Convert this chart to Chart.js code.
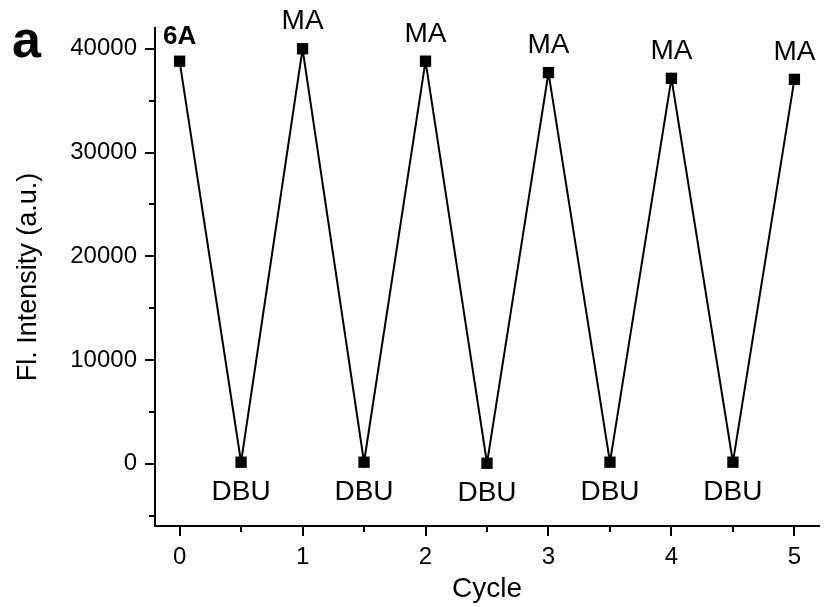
<!DOCTYPE html>
<html>
<head>
<meta charset="utf-8">
<script src="https://cdn.jsdelivr.net/npm/chart.js@4.4.1/dist/chart.umd.min.js"></script>
<style>
  html, body { margin: 0; padding: 0; background: #fff; }
  #wrap { position: relative; width: 827px; height: 607px; }
  #panel { position: absolute; left: 12px; top: 13px; font: bold 52px "Liberation Sans", Arial, sans-serif; color: #000; line-height: 52px; }
</style>
</head>
<body>
<div id="wrap">
  <canvas id="chart" width="827" height="607"></canvas>
  <div id="panel">a</div>
</div>
<script>
// 數據
const cycles = [0, 0.5, 1, 1.5, 2, 2.5, 3, 3.5, 4, 4.5, 5];
const intensity = [38800, 150, 40000, 150, 38800, 50, 37700, 150, 37150, 150, 37050];
const pointLabels = ['6A', 'DBU', 'MA', 'DBU', 'MA', 'DBU', 'MA', 'DBU', 'MA', 'DBU', 'MA'];
const xMajor = [0, 1, 2, 3, 4, 5];
const xMinor = [0.5, 1.5, 2.5, 3.5, 4.5];
const yMajor = [0, 10000, 20000, 30000, 40000];
const yMinor = [-5000, 5000, 15000, 25000, 35000];

const FONT = '"Liberation Sans", Arial, sans-serif';

// 刻度線 (ticks outside, major + minor)
const tickPlugin = {
  id: 'tickMarks',
  afterDraw(chart) {
    const c = chart.ctx;
    const xs = chart.scales.x, ys = chart.scales.y;
    const area = chart.chartArea;
    c.save();
    c.strokeStyle = '#000';
    c.lineWidth = 2;
    c.beginPath();
    xMajor.forEach(v => { const p = Math.round(xs.getPixelForValue(v)); c.moveTo(p, area.bottom); c.lineTo(p, area.bottom + 10); });
    xMinor.forEach(v => { const p = Math.round(xs.getPixelForValue(v)); c.moveTo(p, area.bottom); c.lineTo(p, area.bottom + 6); });
    yMajor.forEach(v => { const p = Math.round(ys.getPixelForValue(v)); c.moveTo(area.left, p); c.lineTo(area.left - 10, p); });
    yMinor.forEach(v => { const p = Math.round(ys.getPixelForValue(v)); c.moveTo(area.left, p); c.lineTo(area.left - 6, p); });
    c.stroke();
    c.restore();
  }
};

// 點標籤
const labelPlugin = {
  id: 'pointText',
  afterDatasetsDraw(chart) {
    const c = chart.ctx;
    const pts = chart.getDatasetMeta(0).data;
    c.save();
    c.fillStyle = '#000';
    c.textAlign = 'center';
    c.textBaseline = 'middle';
    pts.forEach((pt, i) => {
      const txt = pointLabels[i];
      if (txt === '6A') {
        c.font = 'bold 26px ' + FONT;
        c.fillText(txt, pt.x, pt.y - 24);
      } else if (txt === 'DBU') {
        c.font = '28px ' + FONT;
        c.fillText(txt, pt.x, pt.y + 30);
      } else {
        c.font = '28px ' + FONT;
        c.fillText(txt, pt.x, pt.y - 27);
      }
    });
    c.restore();
  }
};

new Chart(document.getElementById('chart'), {
  type: 'line',
  data: {
    datasets: [{
      data: cycles.map((x, i) => ({ x: x, y: intensity[i] })),
      borderColor: '#000',
      borderWidth: 2,
      tension: 0,
      pointStyle: 'rect',
      pointRadius: 8,
      pointBackgroundColor: '#000',
      pointBorderColor: '#000',
      pointBorderWidth: 0
    }]
  },
  options: {
    responsive: false,
    animation: false,
    layout: { padding: { top: 28, right: 3, left: 0, bottom: 0 } },
    plugins: { legend: { display: false }, tooltip: { enabled: false } },
    scales: {
      x: {
        type: 'linear',
        min: -0.2,
        max: 5.2,
        afterBuildTicks: s => { s.ticks = xMajor.map(v => ({ value: v })); },
        afterFit: s => { s.height = 81; },
        grid: { display: false },
        border: { display: true, color: '#000', width: 2 },
        ticks: { color: '#000', padding: 9, font: { family: FONT, size: 24 }, callback: v => v },
        title: { display: true, text: 'Cycle', color: '#000', font: { family: FONT, size: 28 }, padding: { top: 0, bottom: 1 } }
      },
      y: {
        min: -6000,
        max: 42000,
        afterBuildTicks: s => { s.ticks = yMajor.map(v => ({ value: v })); },
        afterFit: s => { s.width = 155; },
        grid: { display: false },
        border: { display: true, color: '#000', width: 2 },
        ticks: { color: '#000', padding: 10, font: { family: FONT, size: 24 }, callback: v => String(v) },
        title: { display: true, text: 'Fl. Intensity (a.u.)', color: '#000', font: { family: FONT, size: 27 }, padding: { top: 12, bottom: 0 } }
      }
    }
  },
  plugins: [tickPlugin, labelPlugin]
});
</script>
</body>
</html>
